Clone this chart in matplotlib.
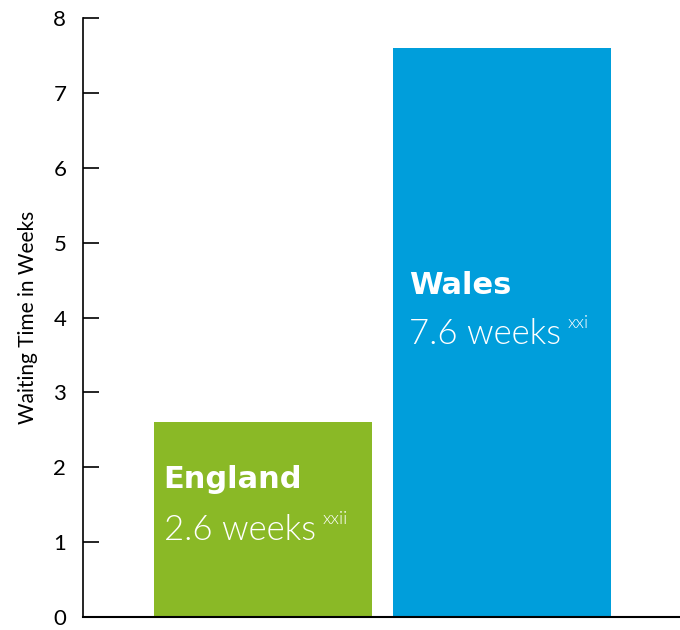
import matplotlib.pyplot as plt
import numpy as np

countries = ["England", "Wales"]
weeks = [2.6, 7.6]
value_labels = ["2.6 weeks", "7.6 weeks"]
refs = ["xxii", "xxi"]
colors = ["#8AB926", "#009EDB"]
yticks = [0, 1, 2, 3, 4, 5, 6, 7, 8]

plt.rcParams["font.family"] = ["Lato", "DejaVu Sans"]

fig = plt.figure(figsize=(6.8, 6.3), dpi=100)
ax = fig.add_axes([0.122, 0.0206, 0.878, 0.9506])

x = np.arange(len(countries))
width = 0.912
ax.bar(x, weeks, width=width, color=colors)

ax.set_xlim(-0.753, 1.745)
ax.set_ylim(0, 8)
ax.set_yticks(yticks)
ax.set_xticks([])
ax.tick_params(axis="y", direction="in", length=11.5, width=1.2, labelsize=16, pad=12)
for s in ["top", "right"]:
    ax.spines[s].set_visible(False)
ax.spines["left"].set_linewidth(1.2)
ax.spines["bottom"].set_linewidth(1.5)
ax.set_ylabel("Waiting Time in Weeks", fontsize=15, labelpad=11)

# name / value placed inside each bar
name_y = [1.73, 4.32]
val_y = [1.03, 3.65]
pad_x = [0.04, 0.067]
for i in range(len(countries)):
    left = x[i] - width / 2 + pad_x[i]
    ax.text(left, name_y[i], countries[i], color="white", fontsize=22,
            fontweight="bold", va="baseline", family="DejaVu Sans")
    t = ax.text(left, val_y[i], value_labels[i], color="white", fontsize=25,
                fontweight=300, va="baseline")
    ax.annotate(refs[i], xy=(1, 0.6), xycoords=t, xytext=(5, 0),
                textcoords="offset points", color="white", fontsize=13,
                fontweight=300, va="bottom", ha="left")

fig.savefig("out.png", dpi=100)
